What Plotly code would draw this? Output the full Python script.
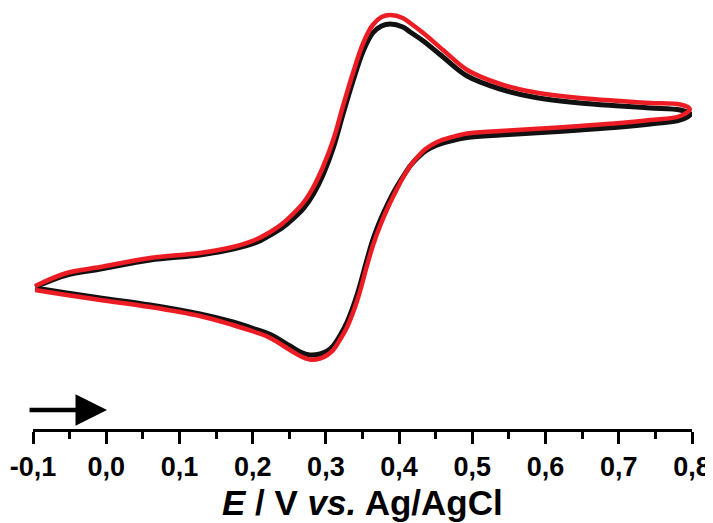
import plotly.graph_objects as go

# Cyclic voltammograms: potential E (V vs Ag/AgCl) and current (arbitrary units)
# forward scan (upper branch) then reverse scan (lower branch)
upper_E = [-0.097, -0.054, -0.008, 0.060, 0.128, 0.173, 0.203, 0.224, 0.240, 0.255,
           0.270, 0.283, 0.296, 0.310, 0.323, 0.337, 0.351, 0.364, 0.376, 0.388,
           0.405, 0.415, 0.433, 0.460, 0.493, 0.538, 0.583, 0.647, 0.702, 0.743,
           0.784]
lower_E = [0.784, 0.743, 0.702, 0.647, 0.606, 0.561, 0.538, 0.493, 0.470, 0.452,
           0.436, 0.425, 0.415, 0.405, 0.395, 0.385, 0.375, 0.364, 0.356, 0.343,
           0.329, 0.319, 0.310, 0.302, 0.292, 0.278, 0.265, 0.251, 0.224, 0.203,
           0.173, 0.128, 0.060, -0.008, -0.054, -0.097]

black_vertex_E = 0.798
black_vertex_I = 17.6
black_upper_I = [0.3, 1.5, 2.1, 3.0, 3.5, 4.1, 4.7, 5.5, 6.2, 7.1,
                 8.2, 9.6, 11.5, 14.2, 17.5, 20.9, 23.9, 25.7, 26.4, 26.6,
                 26.3, 25.8, 24.9, 23.3, 21.4, 20.1, 19.3, 18.7, 18.4, 18.2,
                 18.0]
black_lower_I = [17.0, 16.6, 16.3, 16.0, 15.8, 15.6, 15.5, 15.25, 14.9, 14.5,
                 13.9, 13.2, 12.4, 11.3, 10.1, 8.7, 7.1, 5.0, 3.0, -0.4,
                 -3.2, -4.6, -5.6, -6.1, -6.4, -6.5, -6.2, -5.6, -4.45, -3.9,
                 -3.2, -2.4, -1.5, -0.8, -0.3, 0.2]

red_vertex_E = 0.797
red_vertex_I = 18.1
red_upper_I = [0.4, 1.7, 2.3, 3.2, 3.7, 4.3, 5.0, 5.8, 6.6, 7.6,
               8.8, 10.3, 12.3, 15.0, 18.3, 21.7, 24.7, 26.5, 27.3, 27.5,
               27.2, 26.7, 25.7, 24.0, 22.0, 20.6, 19.8, 19.2, 18.9, 18.7,
               18.55]
red_lower_I = [17.4, 17.0, 16.7, 16.4, 16.2, 16.0, 15.9, 15.65, 15.25, 14.8,
               14.1, 13.3, 12.4, 11.2, 9.8, 8.3, 6.6, 4.4, 2.4, -1.0,
               -3.7, -5.0, -6.0, -6.5, -6.85, -6.95, -6.6, -6.0, -4.8, -4.2,
               -3.5, -2.6, -1.7, -1.0, -0.5, 0.0]

tick_vals = [-0.1, 0.0, 0.1, 0.2, 0.3, 0.4, 0.5, 0.6, 0.7, 0.8]
tick_text = ["-0,1", "0,0", "0,1", "0,2", "0,3", "0,4", "0,5", "0,6", "0,7", "0,8"]

FONT = "Liberation Sans, Arial, sans-serif"

black_E = upper_E + [black_vertex_E] + lower_E
black_I = black_upper_I + [black_vertex_I] + black_lower_I
red_E = upper_E + [red_vertex_E] + lower_E
red_I = red_upper_I + [red_vertex_I] + red_lower_I

fig = go.Figure()
fig.add_trace(go.Scatter(x=black_E, y=black_I, mode="lines",
                         line=dict(color="#111111", width=5, shape="spline", smoothing=1.0),
                         showlegend=False, hoverinfo="skip"))
fig.add_trace(go.Scatter(x=red_E, y=red_I, mode="lines",
                         line=dict(color="#ec1c24", width=4.5, shape="spline", smoothing=1.0),
                         showlegend=False, hoverinfo="skip"))

fig.update_layout(
    width=705, height=515,
    margin=dict(l=25, r=21, t=0, b=94, autoexpand=False),
    paper_bgcolor="white", plot_bgcolor="white",
    font=dict(family=FONT, color="black"),
    xaxis=dict(range=[-0.1, 0.8], showgrid=False, zeroline=False,
               showline=True, linecolor="black", linewidth=3,
               ticks="outside", ticklen=12, tickwidth=3, tickcolor="black",
               tickvals=tick_vals, ticktext=tick_text,
               tickfont=dict(size=27, weight="bold", family=FONT),
               minor=dict(ticks="outside", dtick=0.05, tick0=-0.1, ticklen=7,
                          tickwidth=3, tickcolor="black", showgrid=False)),
    yaxis=dict(range=[-13.9, 28.2], visible=False, showgrid=False, zeroline=False),
    annotations=[
        dict(text="<i>E</i> / V <i>vs.</i> Ag/AgCl", xref="paper", yref="paper",
             x=0.5, y=-0.174, xanchor="center", yanchor="middle", showarrow=False,
             font=dict(size=35, weight="bold", family=FONT)),
        dict(text="", xref="paper", yref="paper", x=0.1123, y=0.045,
             ax=-79, ay=0, showarrow=True, arrowhead=2, arrowsize=1.4,
             arrowwidth=4.5, arrowcolor="black"),
    ],
)

fig.write_html("out.html")
